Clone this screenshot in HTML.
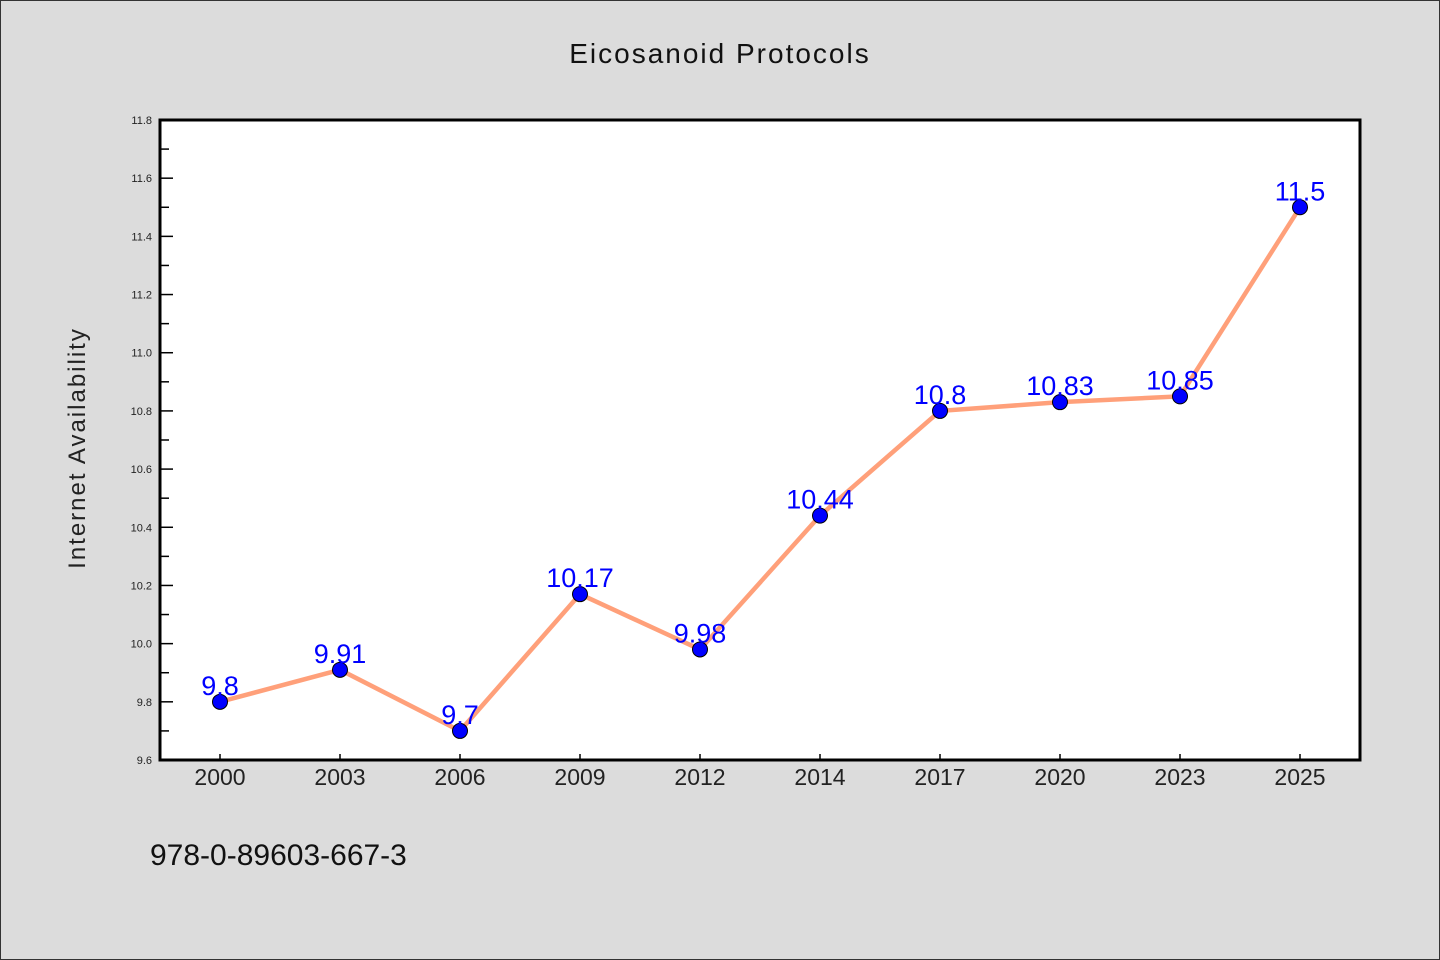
<!DOCTYPE html>
<html><head><meta charset="utf-8"><style>
html,body{margin:0;padding:0;background:#dcdcdc;}
svg{display:block;font-family:"WenQuanYi Zen Hei","Liberation Sans",sans-serif;}
</style></head><body>
<svg width="1440" height="960" xmlns="http://www.w3.org/2000/svg">
<rect x="0.5" y="0.5" width="1439" height="959" fill="#dcdcdc" stroke="#333"/>
<text x="720" y="63" text-anchor="middle" font-size="28" fill="#111" letter-spacing="2">Eicosanoid Protocols</text>
<rect x="160" y="120" width="1200" height="640" fill="#fff"/>
<g id="yaxis"></g><g id="xaxis"></g><g id="series"></g>
<rect x="160" y="120" width="1200" height="640" fill="none" stroke="#000" stroke-width="3"/>
<text transform="translate(85,448) rotate(-90)" text-anchor="middle" font-size="24" fill="#222" letter-spacing="2">Internet Availability</text>
<text x="150" y="865" font-size="30" fill="#111">978-0-89603-667-3</text>
</svg>
<script>
const categories=["2000","2003","2006","2009","2012","2014","2017","2020","2023","2025"];
const values=[9.8,9.91,9.7,10.17,9.98,10.44,10.8,10.83,10.85,11.5];
const yTicks=[9.6,9.8,10.0,10.2,10.4,10.6,10.8,11.0,11.2,11.4,11.6,11.8];
const NS="http://www.w3.org/2000/svg";
const x0=160,x1=1360,y0=760,y1=120,yMin=9.6,yMax=11.8;
const xs=i=>x0+(i+0.5)*(x1-x0)/categories.length;
const ys=v=>y0-(v-yMin)/(yMax-yMin)*(y0-y1);
function mk(t,a,p){const e=document.createElementNS(NS,t);for(const k in a)e.setAttribute(k,a[k]);p.appendChild(e);return e;}
const ya=document.getElementById('yaxis'),xa=document.getElementById('xaxis'),sg=document.getElementById('series');
yTicks.forEach((v,i)=>{
 const y=ys(v);
 const l=mk('line',{x1:160,x2:173,y1:y,y2:y,stroke:'#000','stroke-width':1.5},ya);
 
 
 const t=mk('text',{x:152,y:y+4,'text-anchor':'end','font-size':11,fill:'#222'},ya);
 t.textContent=v.toFixed(1);
 
 
 if(i<yTicks.length-1){const m=(v+yTicks[i+1])/2;
  const ml=mk('line',{x1:160,x2:169,y1:ys(m),y2:ys(m),stroke:'#000','stroke-width':1.5},ya);
  
  }
});
categories.forEach((c,i)=>{
 const x=xs(i);
 const l=mk('line',{x1:x,x2:x,y1:760,y2:754,stroke:'#000','stroke-width':1.5},xa);
 
 
 const t=mk('text',{x:x,y:785,'text-anchor':'middle','font-size':23,fill:'#222'},xa);
 t.textContent=c;
 
 
});
const pl=mk('polyline',{points:values.map((v,i)=>xs(i)+','+ys(v)).join(' '),fill:'none',stroke:'#ffa07a','stroke-width':4.5},sg);


values.forEach((v,i)=>{
 const c=mk('circle',{cx:xs(i),cy:ys(v),r:7.5,fill:'#0000ff',stroke:'#000','stroke-width':1},sg);
 
 
 const t=mk('text',{x:xs(i),y:ys(v)-7,'text-anchor':'middle','font-size':27,fill:'#0000ff'},sg);
 t.textContent=String(v);
 
 
});
</script>
</body></html>
